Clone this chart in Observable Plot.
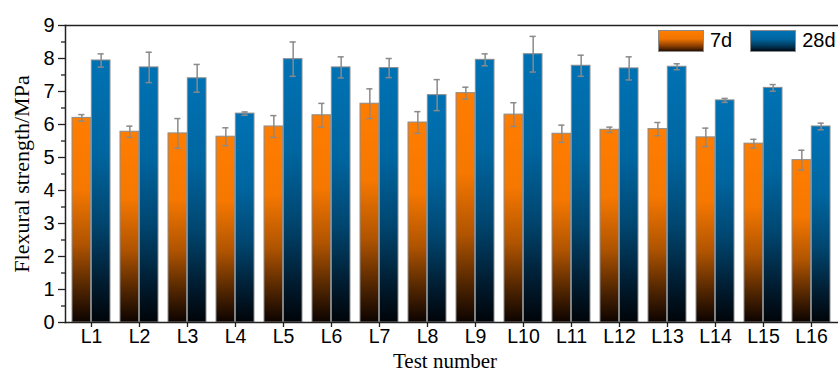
<!DOCTYPE html>
<html>
<head>
<meta charset="utf-8">
<script src="https://cdn.jsdelivr.net/npm/d3@7"></script>
<script src="https://cdn.jsdelivr.net/npm/@observablehq/plot@0.6"></script>
<style>
  html, body { margin: 0; padding: 0; background: #fff; }
  #wrap { position: relative; width: 838px; height: 372px; }
  #wrap svg.plot { font-family: Arial, "Liberation Sans", sans-serif; color: #000; }
  g[aria-label="y-axis label"] text {
    font-family: "Times New Roman", "Liberation Serif", serif; font-size: 22px;
  }
  g.serif text {
    font-family: "Times New Roman", "Liberation Serif", serif; font-size: 21px;
  }
  #legend { position: absolute; top: 29px; left: 658px; display: flex; align-items: center;
    font-family: Arial, "Liberation Sans", sans-serif; font-size: 20px; color: #000; }
  .sw { width: 44px; height: 20px; border: 1px solid #8c8c8c; }
  .lab { margin-left: 6px; margin-right: 0px; }
</style>
</head>
<body>
<svg width="0" height="0" style="position:absolute">
  <defs>
    <linearGradient id="gOrange" x1="0" y1="0" x2="0" y2="1">
      <stop offset="0" stop-color="#ff7d00"/>
      <stop offset="0.35" stop-color="#f67800"/>
      <stop offset="0.62" stop-color="#b05400"/>
      <stop offset="0.85" stop-color="#4a2200"/>
      <stop offset="1" stop-color="#0c0300"/>
    </linearGradient>
    <linearGradient id="gBlue" x1="0" y1="0" x2="0" y2="1">
      <stop offset="0" stop-color="#0072b4"/>
      <stop offset="0.35" stop-color="#0066a0"/>
      <stop offset="0.62" stop-color="#004670"/>
      <stop offset="0.85" stop-color="#001c30"/>
      <stop offset="1" stop-color="#000408"/>
    </linearGradient>
  </defs>
</svg>
<div id="wrap">
  <div id="legend">
    <div class="sw" style="background: linear-gradient(#ff7d00 0%, #f07400 40%, #8a3e00 75%, #2a1000 100%);"></div>
    <span class="lab" style="margin-right:18px">7d</span>
    <div class="sw" style="background: linear-gradient(#0072b4 0%, #0066a0 40%, #00385a 75%, #000a14 100%);"></div>
    <span class="lab">28d</span>
  </div>
</div>
<script>
const tests = ["L1","L2","L3","L4","L5","L6","L7","L8","L9","L10","L11","L12","L13","L14","L15","L16"];
const d7 = [6.20,5.78,5.73,5.63,5.94,6.28,6.63,6.06,6.95,6.30,5.72,5.84,5.86,5.61,5.42,4.92];
const d7err = [0.10,0.17,0.45,0.27,0.33,0.36,0.45,0.33,0.18,0.36,0.26,0.08,0.20,0.28,0.13,0.30];
const d28 = [7.94,7.73,7.40,6.33,7.98,7.73,7.71,6.89,7.96,8.13,7.78,7.70,7.75,6.73,7.11,5.94];
const d28err = [0.20,0.46,0.42,0.05,0.52,0.32,0.29,0.47,0.18,0.54,0.32,0.35,0.09,0.06,0.10,0.10];
const yTicks = [0,1,2,3,4,5,6,7,8,9];
const yMinor = [0.5,1.5,2.5,3.5,4.5,5.5,6.5,7.5,8.5];

const W = 838, H = 372, mL = 65, mR = 0, mT = 25, mB = 50;
const xOpts = {type: "band", domain: tests, paddingInner: 0.2, paddingOuter: 0.1};
const bw = Plot.scale({x: {...xOpts, range: [mL, W - mR]}}).bandwidth;
const half = bw / 2, q = bw / 4, cap = 3.4;

const rows = tests.map((t, i) => ({t, a: d7[i], ae: d7err[i], b: d28[i], be: d28err[i]}));
const errColor = "#8a8a8a";
const lineColor = "#222";

const chart = Plot.plot({
  width: W, height: H,
  marginLeft: mL, marginRight: mR, marginTop: mT, marginBottom: mB,
  style: {fontSize: "20px", background: "transparent"},
  x: {...xOpts, label: null},
  y: {domain: [0, 9], label: null},
  marks: [
    Plot.barY(rows, {x: "t", y: "a", insetRight: half, fill: "url(#gOrange)", stroke: "#8c8c8c", strokeWidth: 1}),
    Plot.barY(rows, {x: "t", y: "b", insetLeft: half, fill: "url(#gBlue)", stroke: "#8c8c8c", strokeWidth: 1}),
    Plot.ruleX(rows, {x: "t", y1: d => d.a - d.ae, y2: d => d.a + d.ae, dx: -q, stroke: errColor, strokeWidth: 1.5}),
    Plot.ruleX(rows, {x: "t", y1: d => d.b - d.be, y2: d => d.b + d.be, dx: q, stroke: errColor, strokeWidth: 1.5}),
    Plot.tickY(rows, {x: "t", y: d => d.a + d.ae, insetLeft: q - cap, insetRight: bw - q - cap, stroke: errColor, strokeWidth: 1.5}),
    Plot.tickY(rows, {x: "t", y: d => d.a - d.ae, insetLeft: q - cap, insetRight: bw - q - cap, stroke: errColor, strokeWidth: 1.5}),
    Plot.tickY(rows, {x: "t", y: d => d.b + d.be, insetLeft: bw - q - cap, insetRight: q - cap, stroke: errColor, strokeWidth: 1.5}),
    Plot.tickY(rows, {x: "t", y: d => d.b - d.be, insetLeft: bw - q - cap, insetRight: q - cap, stroke: errColor, strokeWidth: 1.5}),
    Plot.axisY({ticks: yTicks, tickSize: 7, tickPadding: 4, stroke: lineColor, strokeWidth: 1.3, fontSize: 20,
      label: "Flexural strength/MPa", labelAnchor: "center", labelOffset: 52, labelArrow: "none"}),
    Plot.axisY({ticks: yMinor, tickSize: 4, text: null, stroke: lineColor, strokeWidth: 1.3, label: null}),
    Plot.axisX({tickSize: 5, tickPadding: 2, stroke: lineColor, strokeWidth: 1.3, fontSize: 19.5, label: null}),
    Plot.text(["Test number"], {frameAnchor: "bottom", lineAnchor: "middle", dy: 38.5, dx: -7, text: d => d, fill: "#000", className: "serif"}),
    Plot.frame({anchor: "left", stroke: lineColor, strokeWidth: 1.5}),
    Plot.frame({anchor: "bottom", stroke: lineColor, strokeWidth: 1.5}),
    Plot.frame({anchor: "top", stroke: lineColor, strokeWidth: 1.5})
  ]
});
chart.classList.add("plot");
document.getElementById("wrap").prepend(chart);
</script>
</body>
</html>
